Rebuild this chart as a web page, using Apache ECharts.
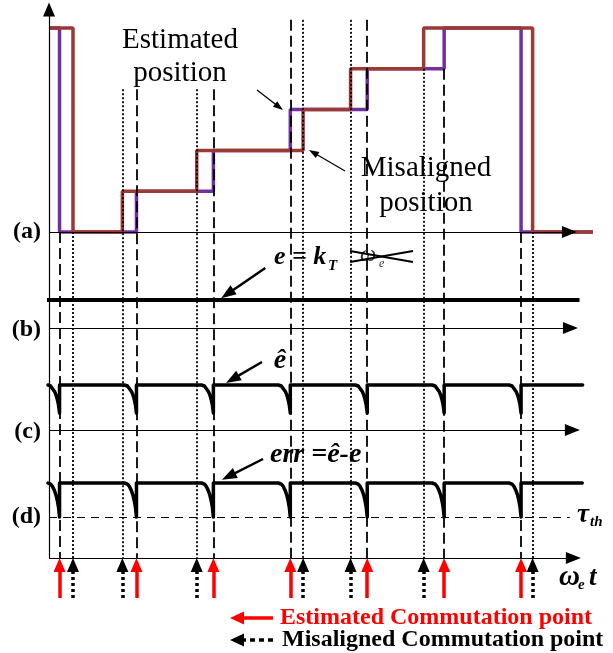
<!DOCTYPE html>
<html><head><meta charset="utf-8">
<script src="https://cdn.jsdelivr.net/npm/echarts@6/dist/echarts.min.js"></script>
<style>html,body{margin:0;padding:0;background:#fff}#c{width:613px;height:653px}</style>
</head><body><div id="c"></div>
<script>
// ---------- data (electrical angle in degrees) ----------
const estimatedPoints  = [0, 60, 120, 180, 240, 300, 360];
const misalignedPoints = [10.5, 49, 107, 190, 227, 284, 369];
const estimatedSectors  = [5, 0, 1, 2, 3, 4, 5, 0];
const misalignedSectors = [5, 0, 1, 2, 3, 4, 5, 0];
const guideTopLevels = [0, 3.5, 3.5, 5.2, 5.2, 4, 0];
// shape of the back-EMF dip just before a commutation point:
// offset before the point (deg) and fraction of the dip depth
const hookDx   = [-9.4, -7, -5.5, -3.9, -2.7, -1.6, -0.8, 0];
const hookFrac = [0, 0.035, 0.1, 0.23, 0.36, 0.54, 0.71, 1];
const panelLabels  = ['(a)', '(b)', '(c)', '(d)'];
const legendLabels = ['Estimated Commutation point', 'Misaligned Commutation point'];

// ---------- layout (vertical units = px above bottom axis) ----------
const A0 = 326, LV = 40.8;
const lv = s => A0 + LV * s;
const B0 = 230, E_Y = 258;
const C0 = 128, EHAT_Y = 173, EHAT_DIP = 145;
const ERR_Y = 75, TH_Y = 41;
const X_AXIS = -8.2;

const RED = '#ff0000', PURPLE = '#7030A0', BROWN = '#9b3a35';
const SERIF = '"Liberation Serif","Times New Roman",serif';

function stepData(points, sectors, xEnd) {
  const d = [[X_AXIS, lv(sectors[0])]];
  points.forEach((p, i) => d.push([p, lv(sectors[i + 1])]));
  d.push([xEnd, lv(sectors[sectors.length - 1])]);
  return d;
}
function hookData(points, yLine, yDip, xStart, xEnd) {
  const d = [[xStart, yLine]];
  points.forEach(p => {
    hookDx.forEach((dx, j) => d.push([p + dx, yLine - hookFrac[j] * (yLine - yDip)]));
    d.push([p, yLine]);
  });
  d.push([xEnd, yLine]);
  return d;
}
function seg(x1, y1, x2, y2, style, head) {
  const end = { coord: [x2, y2], symbol: head ? 'triangle' : 'none' };
  if (head) end.symbolSize = head;
  return [{ coord: [x1, y1], symbol: 'none', lineStyle: style }, end];
}
function ml(lines, z) {
  return { type: 'line', data: [], z: z, silent: true, animation: false,
    markLine: { silent: true, animation: false, symbol: 'none', precision: 4,
      label: { show: false }, emphasis: { disabled: true }, data: lines } };
}

const thin = { color: '#000', width: 1.2, type: 'solid' };
const series = [];

// guides
const guides = [];
estimatedPoints.forEach((p, i) => guides.push(seg(p, lv(guideTopLevels[i]), p, 0,
  { color: '#000', width: 1.8, type: [11, 5] })));
misalignedPoints.forEach((p, i) => guides.push(seg(p, lv(guideTopLevels[i]), p, 0,
  { color: '#000', width: 1.8, type: [2, 2] })));
series.push(ml(guides, 1));

// axes
series.push(ml([
  seg(X_AXIS, 0, X_AXIS, 548.5, thin, [12, 14]),
  seg(X_AXIS, A0, 397.7, A0, thin, [12, 15]),
  seg(X_AXIS, B0, 398.5, B0, thin, [12, 15]),
  seg(X_AXIS, C0, 400, C0, thin, [12, 15]),
  seg(X_AXIS, 0, 400.8, 0, thin, [12, 15]),
  seg(X_AXIS, TH_Y, 398, TH_Y, { color: '#000', width: 1.2, type: [8, 6] }, null)
], 2));

// position steps
series.push({ type: 'line', data: stepData(estimatedPoints, estimatedSectors, 416), step: 'end',
  showSymbol: false, silent: true, animation: false, z: 3,
  lineStyle: { color: PURPLE, width: 3.5 } });
series.push({ type: 'line', data: stepData(misalignedPoints, misalignedSectors, 416), step: 'end',
  showSymbol: false, silent: true, animation: false, z: 4,
  lineStyle: { color: BROWN, width: 3.5 } });

// e, e-hat, err
series.push({ type: 'line', data: [[-9.8, E_Y], [405.6, E_Y]], showSymbol: false, silent: true,
  animation: false, z: 5, lineStyle: { color: '#000', width: 4 } });
series.push({ type: 'line', data: hookData(estimatedPoints, EHAT_Y, EHAT_DIP, -9, 408),
  showSymbol: false, silent: true, animation: false, z: 5,
  lineStyle: { color: '#000', width: 3.5, cap: 'round', join: 'round' } });
series.push({ type: 'line', data: hookData(estimatedPoints, ERR_Y, TH_Y, -9, 407.7),
  showSymbol: false, silent: true, animation: false, z: 5,
  lineStyle: { color: '#000', width: 3.5, cap: 'round', join: 'round' } });

// commutation arrows under the time axis
const bottom = [];
estimatedPoints.forEach(p => bottom.push(seg(p, -40, p, -7, { color: RED, width: 3.5, type: 'solid' }, [12, 14])));
misalignedPoints.forEach(p => bottom.push(seg(p, -40, p, -7, { color: '#000', width: 3.5, type: [3, 3] }, [12, 14])));
// legend arrows
bottom.push(seg(166.5, -60, 138.4, -60, { color: RED, width: 3.5, type: 'solid' }, [13, 14]));
bottom.push(seg(166.5, -82, 138.4, -82, { color: '#000', width: 3.5, type: [5, 4] }, [13, 14]));
series.push(ml(bottom, 6));

// annotation arrows
series.push(ml([
  seg(154.0, 468, 171.2, 451, { color: '#000', width: 1.3, type: 'solid' }, [7, 10]),
  seg(222.7, 387, 197.9, 405.5, { color: '#000', width: 1.3, type: 'solid' }, [7, 10]),
  seg(160.5, 290, 130.9, 264, { color: '#000', width: 2.5, type: 'solid' }, [11, 15]),
  seg(157.9, 196, 134.9, 178.8, { color: '#000', width: 2.5, type: 'solid' }, [11, 15]),
  seg(158.7, 99, 131.9, 81.6, { color: '#000', width: 2.5, type: 'solid' }, [11, 15])
], 7));

function txt(text, x, y, font, opts) {
  opts = opts || {};
  return { type: 'text', silent: true, z: 10,
    style: { text: text, x: x, y: y, font: font, fill: opts.fill || '#000',
      align: opts.align || 'left', textAlign: opts.align || 'left',
      verticalAlign: 'middle', textVerticalAlign: 'middle',
      lineHeight: opts.lineHeight } };
}
const panelY = [232, 330, 432, 517];
const graphic = [
  txt('Estimated\nposition', 180, 56.5, '29px ' + SERIF, { align: 'center', lineHeight: 33 }),
  txt('Misaligned\nposition', 426, 185.5, '29px ' + SERIF, { align: 'center', lineHeight: 35 }),
  txt('e = k', 274, 257, 'italic bold 26px ' + SERIF),
  txt('T', 328, 266, 'italic bold 15px ' + SERIF),
  txt('\u03c9', 360, 255, 'italic 23px ' + SERIF, { fill: '#333' }),
  txt('e', 379, 264, 'italic 12px ' + SERIF, { fill: '#333' }),
  { type: 'line', silent: true, z: 11, shape: { x1: 350, y1: 251, x2: 413, y2: 262 }, style: { stroke: '#000', lineWidth: 2 } },
  { type: 'line', silent: true, z: 11, shape: { x1: 350, y1: 262, x2: 413, y2: 251 }, style: { stroke: '#000', lineWidth: 2 } },
  txt('\u00ea', 280, 361, 'italic bold 28px ' + SERIF, { align: 'center' }),
  txt('err =\u00ea-e', 270, 455, 'italic bold 28px ' + SERIF),
  txt('\u03c4', 577, 515, 'italic bold 27px ' + SERIF),
  txt('th', 590, 522, 'italic bold 15px ' + SERIF),
  txt('\u03c9', 559, 578, 'italic bold 29px ' + SERIF),
  txt('e', 578, 585, 'italic bold 15px ' + SERIF),
  txt('t', 589, 578, 'italic bold 27px ' + SERIF),
  txt(legendLabels[0], 280, 618, 'bold 24px ' + SERIF, { fill: RED }),
  txt(legendLabels[1], 282, 640, 'bold 24px ' + SERIF)
];
panelLabels.forEach((l, i) => graphic.push(txt(l, 41, panelY[i], 'bold 24px ' + SERIF, { align: 'right' })));

const chart = echarts.init(document.getElementById('c'));
chart.setOption({
  animation: false,
  backgroundColor: '#fff',
  grid: { left: 48, width: 550, top: 3, height: 650 },
  xAxis: { type: 'value', min: -9, max: 420, show: false },
  yAxis: { type: 'value', min: -95, max: 555, show: false },
  series: series,
  graphic: graphic
});
</script></body></html>
